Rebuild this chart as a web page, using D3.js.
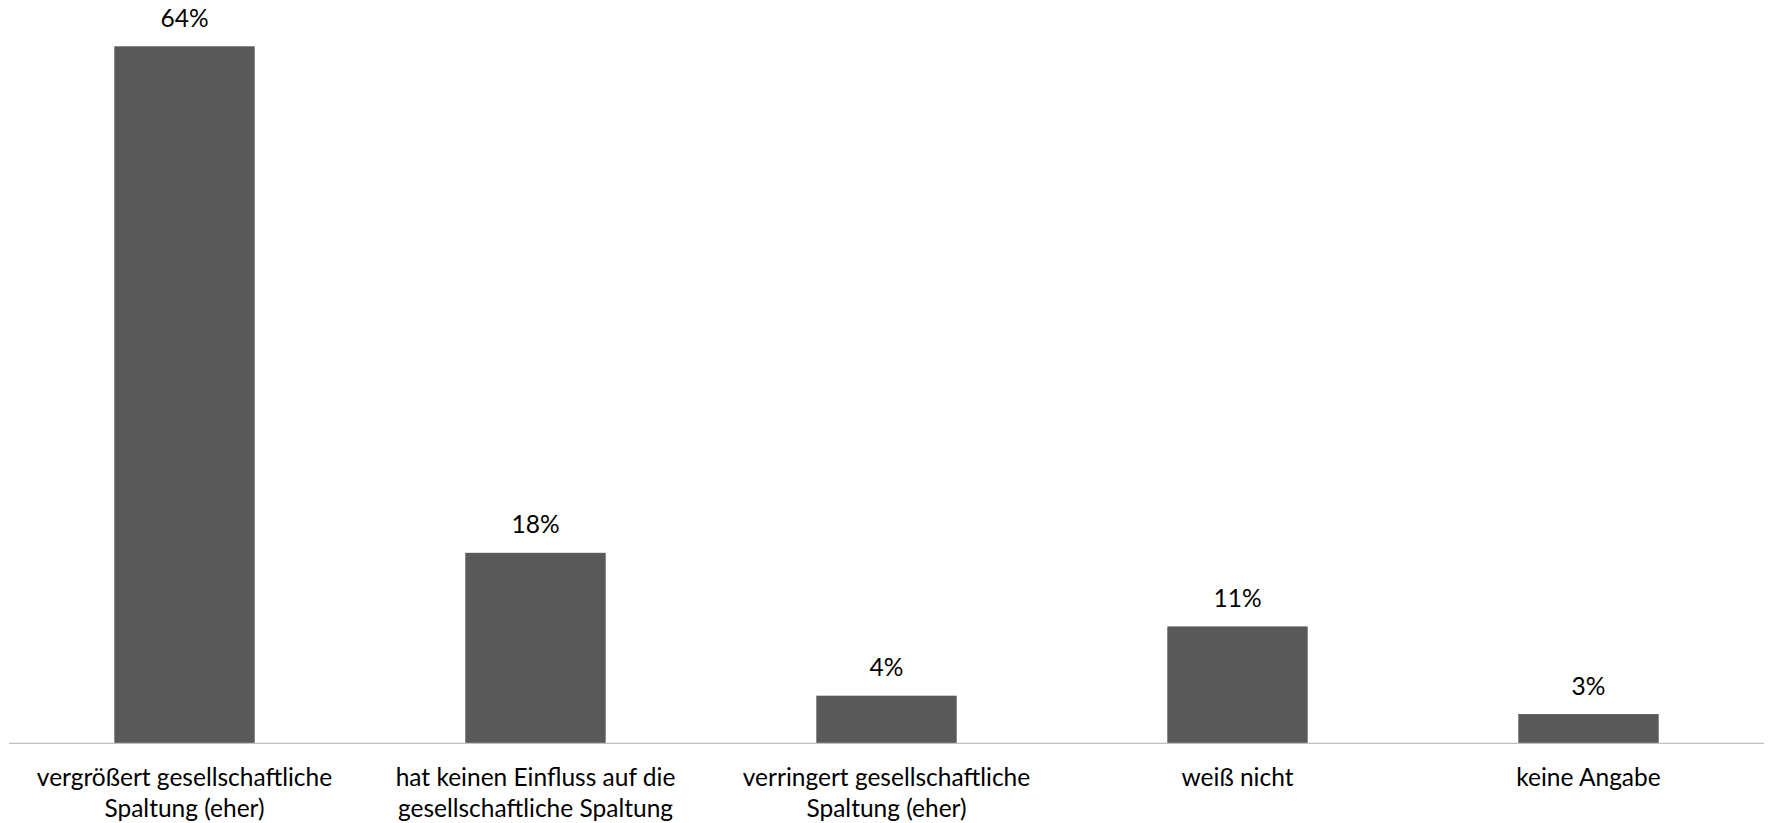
<!DOCTYPE html>
<html>
<head>
<meta charset="utf-8">
<script src="https://cdn.jsdelivr.net/npm/d3@7"></script>
<style>
  html, body { margin: 0; padding: 0; background: #fff; }
  svg { display: block; font-family: Lato, "Open Sans", sans-serif; }
</style>
</head>
<body>
<div class="chart"></div>
<script>
// Bar chart: effect on social division, share of answers (%)
var categories = [
  ['vergrößert gesellschaftliche', 'Spaltung (eher)'],
  ['hat keinen Einfluss auf die', 'gesellschaftliche Spaltung'],
  ['verringert gesellschaftliche', 'Spaltung (eher)'],
  ['weiß nicht'],
  ['keine Angabe']
]
var values = [64.4, 17.6, 4.4, 10.8, 2.7]

var W = 1769, H = 823
var svg = d3.select('.chart').append('svg').attr('width', W).attr('height', H)

// plot area: baseline at 743, tallest bar reaching ~46
var x = d3.scaleBand().domain(d3.range(values.length)).range([9, 1764]).paddingInner(0.6).paddingOuter(0.3)
var y = d3.scaleLinear().domain([0, 64.4]).range([743.3, 46.3])

var FONT = 24.5

svg.selectAll('rect.bar').data(values).enter().append('rect')
  .attr('class', 'bar')
  .attr('x', function(d, i){ return x(i) })
  .attr('width', x.bandwidth())
  .attr('y', function(d){ return y(d) })
  .attr('height', function(d){ return y(0) - y(d) })
  .attr('fill', '#595959')

// baseline (category axis, no ticks)
svg.append('line')
  .attr('x1', 9).attr('x2', 1764)
  .attr('y1', y(0)).attr('y2', y(0))
  .attr('stroke', '#bfbfbf').attr('stroke-width', 1.3)

// value labels above bars
svg.selectAll('text.val').data(values).enter().append('text')
  .attr('class', 'val')
  .attr('x', function(d, i){ return x(i) + x.bandwidth() / 2 })
  .attr('y', function(d){ return y(d) - 19.5 })
  .attr('text-anchor', 'middle')
  .attr('font-size', FONT)
  .attr('fill', '#000')
  .text(function(d){ return Math.round(d) + '%' })

// category labels, wrapped onto two lines like the original
var cat = svg.selectAll('text.cat').data(categories).enter().append('text')
  .attr('class', 'cat')
  .attr('x', function(d, i){ return x(i) + x.bandwidth() / 2 })
  .attr('y', y(0) + 43)
  .attr('text-anchor', 'middle')
  .attr('font-size', FONT)
  .attr('fill', '#000')
cat.each(function(lines, i){
  var t = d3.select(this)
  lines.forEach(function(l, j){
    t.append('tspan')
      .attr('x', x(i) + x.bandwidth() / 2)
      .attr('dy', j ? 31 : 0)
      .text(l)
  })
})
</script>
</body>
</html>
